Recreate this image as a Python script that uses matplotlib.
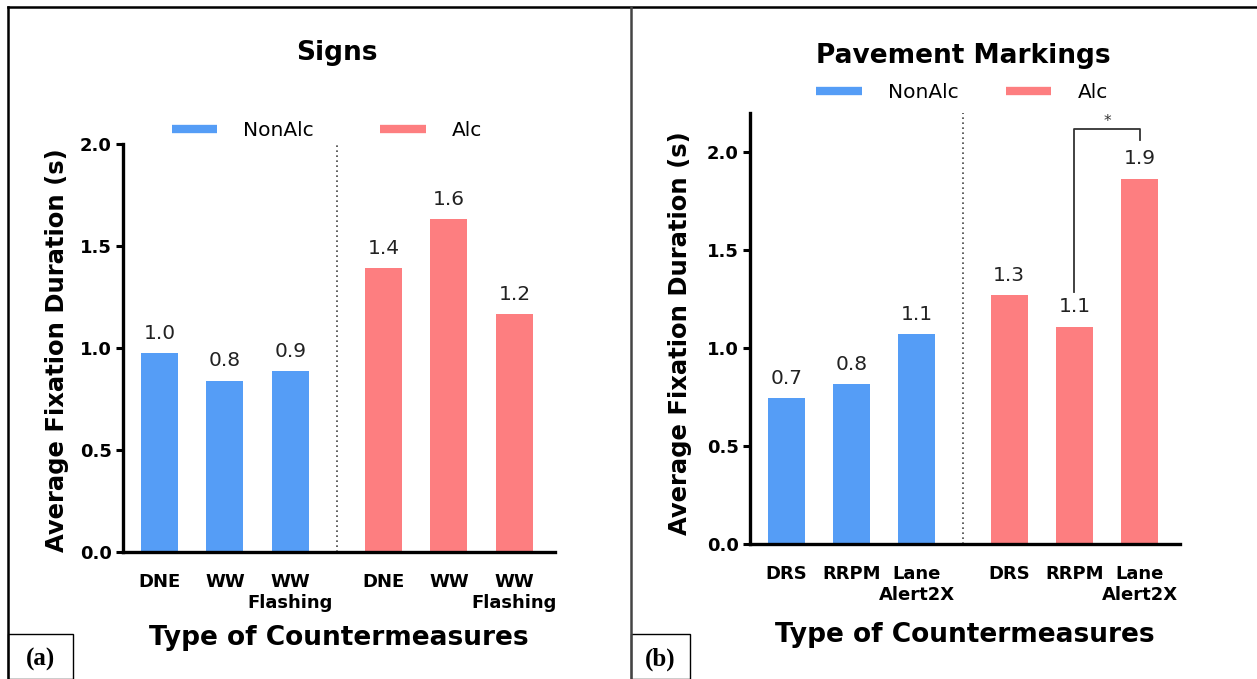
import matplotlib
matplotlib.use("Agg")
import matplotlib.pyplot as plt
from matplotlib.lines import Line2D
from matplotlib.patches import Rectangle

# ── Data ──────────────────────────────────────────────────────────────────────
sign_labels = ["DNE", "WW", "WW\nFlashing"]
sign_nonalc = [0.975, 0.84, 0.885]
sign_alc = [1.39, 1.63, 1.165]

pm_labels = ["DRS", "RRPM", "Lane\nAlert2X"]
pm_nonalc = [0.745, 0.815, 1.07]
pm_alc = [1.27, 1.11, 1.865]

# significance bracket (panel b): between Alc RRPM and Alc Lane Alert2X
sig_pair = (1, 2)
sig_levels = (1.285, 2.12, 2.06)

BLUE = "#559df6"
RED = "#fd7e80"
W, H = 1257, 679

positions = [0, 1, 2, 3.42, 4.42, 5.42]
divider_x = 2.71
bar_w = 0.565


def fx(px):
    return px / W


def fy(py):
    return 1 - py / H


fig = plt.figure(figsize=(W / 100, H / 100), dpi=100)

# panel frames (table cell look)
fig.add_artist(Line2D([fx(8), 1], [fy(7), fy(7)], color="black", lw=1.8))
fig.add_artist(Line2D([fx(8), fx(8)], [0, fy(7)], color="black", lw=1.8))
fig.add_artist(Line2D([fx(631), fx(631)], [0, fy(7)], color="#444444", lw=1.8))
for x0, x1, tag in [(8, 73, "(a)"), (631, 690, "(b)")]:
    fig.add_artist(Rectangle((fx(x0), 0), fx(x1) - fx(x0), fy(634), fill=False,
                             ec="black", lw=1.0, transform=fig.transFigure))
    fig.text(fx((x0 + x1) / 2), fy(659), tag, family="Liberation Serif",
             fontweight="bold", fontsize=18, ha="center", va="center")


def draw_panel(rect, labels, nonalc, alc, title, ymax, yticks, title_xy, legend_xy,
               colspace, ylab_x, ylab_y, xlab_y):
    ax = fig.add_axes(rect)
    vals = list(nonalc) + list(alc)
    colors = [BLUE] * len(nonalc) + [RED] * len(alc)
    bars = ax.bar(positions, vals, width=bar_w, color=colors)
    for b, v in zip(bars, vals):
        ax.annotate(f"{v:.1f}", (b.get_x() + b.get_width() / 2, v),
                    xytext=(0, 7.5), textcoords="offset points",
                    ha="center", va="bottom", fontsize=14.5, color="#222222")
    ax.axvline(divider_x, color="#444444", ls=(0, (1, 2)), lw=1.2)

    ax.set_xlim(-0.557, 6.04)
    ax.set_ylim(0, ymax)
    ax.set_yticks(yticks)
    ax.set_yticklabels([f"{t:.1f}" for t in yticks], fontweight="bold", fontsize=13)
    ax.set_xticks(positions)
    ax.set_xticklabels(list(labels) * 2, fontweight="bold", fontsize=13)
    ax.tick_params(axis="x", length=0, pad=15)
    ax.tick_params(axis="y", length=5, width=2.2, pad=3)
    for s in ("top", "right"):
        ax.spines[s].set_visible(False)
    for s in ("left", "bottom"):
        ax.spines[s].set_linewidth(2.4)

    ax.text(ylab_x, ylab_y, "Average Fixation Duration (s)", transform=ax.transAxes,
            rotation=90, ha="center", va="center", fontweight="bold", fontsize=17.5)
    ax.text(0.5, xlab_y, "Type of Countermeasures", transform=ax.transAxes,
            ha="center", va="center", fontweight="bold", fontsize=19)
    fig.text(fx(title_xy[0]), fy(title_xy[1]), title, ha="center", va="center",
             fontweight="bold", fontsize=19)

    handles = [Line2D([], [], color=BLUE, lw=6, solid_capstyle="butt"),
               Line2D([], [], color=RED, lw=6, solid_capstyle="butt")]
    fig.legend(handles, ["NonAlc", "Alc"], ncol=2, loc="center",
               bbox_to_anchor=(fx(legend_xy[0]), fy(legend_xy[1])),
               frameon=False, fontsize=14.5, handlelength=2.25, handletextpad=1.3,
               columnspacing=colspace)
    return ax


ax_a = draw_panel([fx(123), fy(552), fx(555) - fx(123), fy(144) - fy(552)],
                  sign_labels, sign_nonalc, sign_alc, "Signs", 2.0,
                  [0, 0.5, 1.0, 1.5, 2.0], (337, 53), (327, 131), 3.3,
                  -0.153, 0.495, -0.211)

ax_b = draw_panel([fx(750), fy(544), fx(1180) - fx(750), fy(113) - fy(544)],
                  pm_labels, pm_nonalc, pm_alc, "Pavement Markings", 2.2,
                  [0, 0.5, 1.0, 1.5, 2.0], (963, 56), (962, 93), 2.35,
                  -0.163, 0.49, -0.211)

# significance bracket
i, j = sig_pair
xa, xb = positions[3 + i], positions[3 + j]
ax_b.plot([xa, xa, xb, xb], [sig_levels[0], sig_levels[1], sig_levels[1], sig_levels[2]],
          color="#333333", lw=1.3)
ax_b.text((xa + xb) / 2, sig_levels[1], "*", ha="center", va="bottom", fontsize=11,
          color="#333333")

fig.savefig("out.png", dpi=100)
